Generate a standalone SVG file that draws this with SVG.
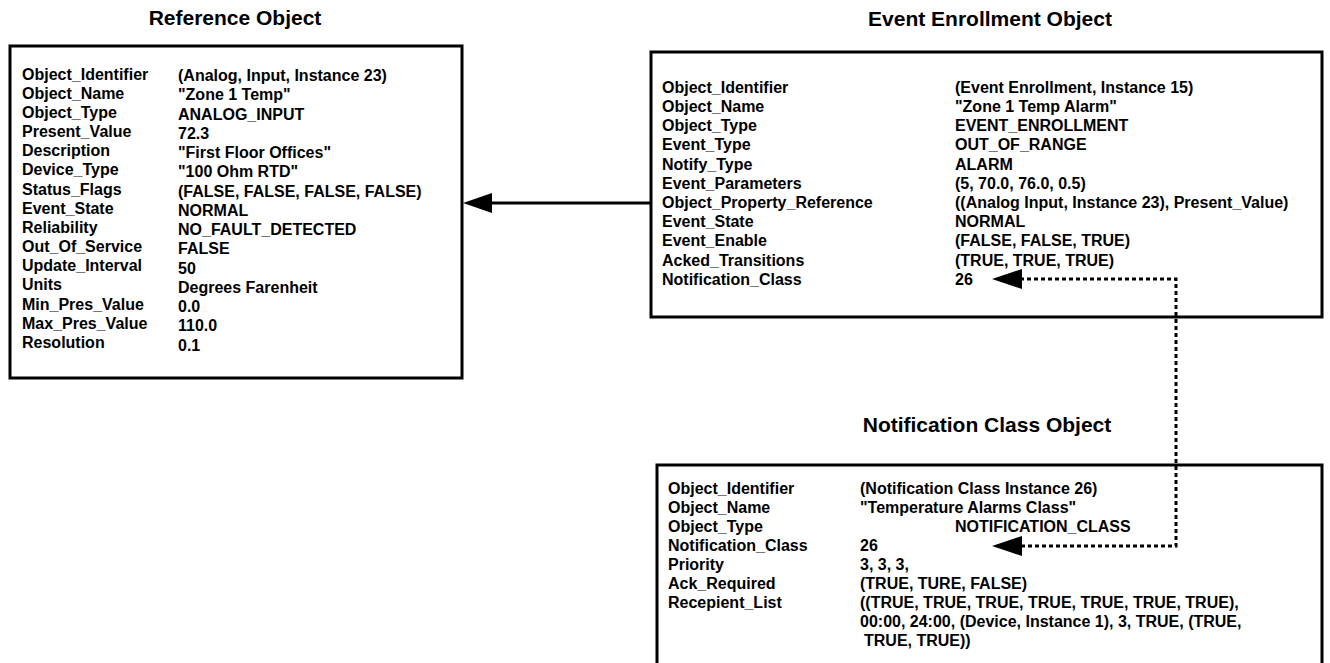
<svg xmlns="http://www.w3.org/2000/svg" width="1330" height="663" viewBox="0 0 1330 663">
<style>
.box{fill:#fff;stroke:#000;stroke-width:3}
.t{font-family:"Liberation Sans",Arial,sans-serif;font-weight:bold;font-size:16px;fill:#000}
.title{font-family:"Liberation Sans",Arial,sans-serif;font-weight:bold;font-size:21px;fill:#000;text-anchor:middle}
.solid{fill:none;stroke:#000;stroke-width:3}
.dash{fill:none;stroke:#000;stroke-width:3;stroke-dasharray:4 3}
</style>
<rect width="1330" height="663" fill="#fff"/>
<g id="reference-object">
<text class="title" x="235" y="25">Reference Object</text>
<rect class="box" x="10" y="46" width="452" height="332"/>
<g class="t">
<text x="22" y="80">Object_Identifier</text><text x="178" y="81">(Analog, Input, Instance 23)</text>
<text x="22" y="99">Object_Name</text><text x="178" y="100">"Zone 1 Temp"</text>
<text x="22" y="118">Object_Type</text><text x="178" y="120">ANALOG_INPUT</text>
<text x="22" y="137">Present_Value</text><text x="178" y="139">72.3</text>
<text x="22" y="156">Description</text><text x="178" y="158">"First Floor Offices"</text>
<text x="22" y="175">Device_Type</text><text x="178" y="177">"100 Ohm RTD"</text>
<text x="22" y="195">Status_Flags</text><text x="178" y="197">(FALSE, FALSE, FALSE, FALSE)</text>
<text x="22" y="214">Event_State</text><text x="178" y="216">NORMAL</text>
<text x="22" y="233">Reliability</text><text x="178" y="235">NO_FAULT_DETECTED</text>
<text x="22" y="252">Out_Of_Service</text><text x="178" y="254">FALSE</text>
<text x="22" y="271">Update_Interval</text><text x="178" y="274">50</text>
<text x="22" y="290">Units</text><text x="178" y="293">Degrees Farenheit</text>
<text x="22" y="310">Min_Pres_Value</text><text x="178" y="312">0.0</text>
<text x="22" y="329">Max_Pres_Value</text><text x="178" y="331">110.0</text>
<text x="22" y="348">Resolution</text><text x="178" y="351">0.1</text>
</g>
</g>
<g id="event-enrollment-object">
<text class="title" x="990" y="26">Event Enrollment Object</text>
<rect class="box" x="651" y="52" width="671" height="265"/>
<g class="t">
<text x="662" y="93">Object_Identifier</text><text x="955" y="93">(Event Enrollment, Instance 15)</text>
<text x="662" y="112">Object_Name</text><text x="955" y="112">"Zone 1 Temp Alarm"</text>
<text x="662" y="131">Object_Type</text><text x="955" y="131">EVENT_ENROLLMENT</text>
<text x="662" y="150">Event_Type</text><text x="955" y="150">OUT_OF_RANGE</text>
<text x="662" y="170">Notify_Type</text><text x="955" y="170">ALARM</text>
<text x="662" y="189">Event_Parameters</text><text x="955" y="189">(5, 70.0, 76.0, 0.5)</text>
<text x="662" y="208">Object_Property_Reference</text><text x="955" y="208">((Analog Input, Instance 23), Present_Value)</text>
<text x="662" y="227">Event_State</text><text x="955" y="227">NORMAL</text>
<text x="662" y="246">Event_Enable</text><text x="955" y="246">(FALSE, FALSE, TRUE)</text>
<text x="662" y="266">Acked_Transitions</text><text x="955" y="266">(TRUE, TRUE, TRUE)</text>
<text x="662" y="285">Notification_Class</text><text x="955" y="285">26</text>
</g>
</g>
<g id="notification-class-object">
<text class="title" x="987" y="432">Notification Class Object</text>
<rect class="box" x="657" y="465" width="665" height="220"/>
<g class="t">
<text x="668" y="494">Object_Identifier</text><text x="860" y="494">(Notification Class Instance 26)</text>
<text x="668" y="513">Object_Name</text><text x="860" y="513">"Temperature Alarms Class"</text>
<text x="668" y="532">Object_Type</text><text x="955" y="532">NOTIFICATION_CLASS</text>
<text x="668" y="551">Notification_Class</text><text x="860" y="551">26</text>
<text x="668" y="570">Priority</text><text x="860" y="570">3, 3, 3,</text>
<text x="668" y="589">Ack_Required</text><text x="860" y="589">(TRUE, TURE, FALSE)</text>
<text x="668" y="608">Recepient_List</text><text x="860" y="608">((TRUE, TRUE, TRUE, TRUE, TRUE, TRUE, TRUE),</text>
<text x="860" y="627">00:00, 24:00, (Device, Instance 1), 3, TRUE, (TRUE,</text>
<text x="864" y="646">TRUE, TRUE))</text>
</g>
</g>
<g id="connectors">
<line class="solid" x1="651" y1="203" x2="490" y2="203"/>
<polygon points="463,203 492,193 492,213" fill="#000"/>
<path class="dash" d="M1020,279 H1176 V546 H1020"/>
<polygon points="992,279 1022,269 1022,289" fill="#000"/>
<polygon points="992,546 1022,536 1022,556" fill="#000"/>
</g>
</svg>
